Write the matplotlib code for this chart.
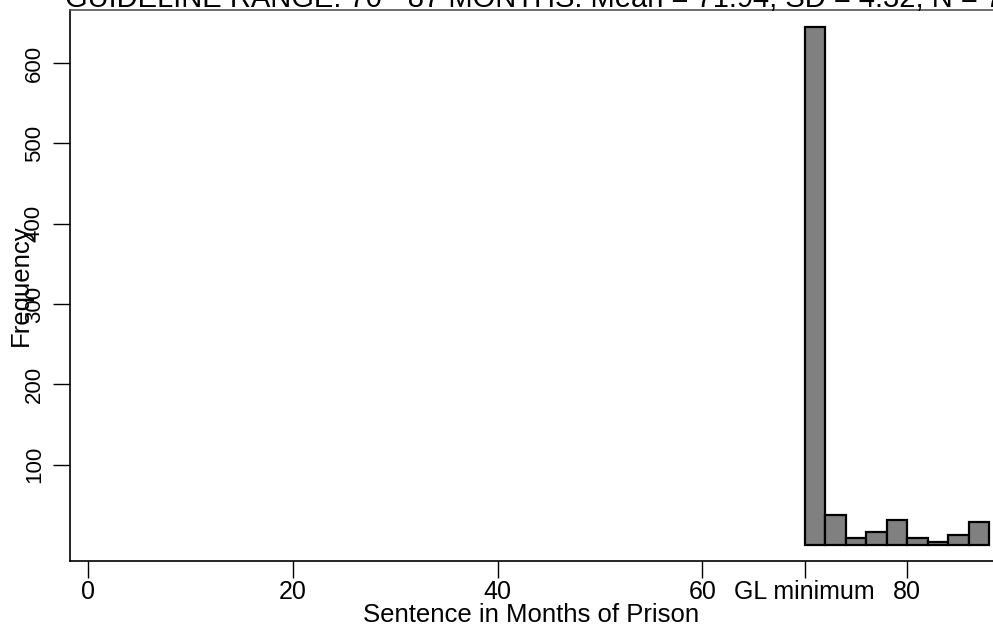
import numpy as np
import matplotlib
matplotlib.use('Agg')
import matplotlib.pyplot as plt

plt.rcParams['font.family'] = ['Liberation Sans', 'DejaVu Sans']

# histogram bins (months) and counts
bin_left = [70, 72, 74, 76, 78, 80, 82, 84, 86]
counts = [645, 37, 9, 16, 31, 9, 4, 12, 29]
bin_width = 2

x_ticks = [0, 20, 40, 60, 70, 80]
x_tick_labels = ['0', '20', '40', '60', 'GL minimum', '80']
y_ticks = [100, 200, 300, 400, 500, 600]

titulo = 'GUIDELINE RANGE: 70 - 87 MONTHS: Mean = 71.94, SD = 4.32, N = 792'

fig = plt.figure(figsize=(9.93, 6.32), dpi=100)
ax = fig.add_axes([70 / 993, 71 / 632, 923 / 993, 551 / 632])

ax.bar(bin_left, counts, width=bin_width, align='edge',
       color='#808080', edgecolor='black', linewidth=1.6)

ax.set_xlim(-1.76, 88.38)
ax.set_ylim(-20, 666)

ax.set_xticks(x_ticks)
ax.set_xticklabels(x_tick_labels, fontsize=18)
ax.set_yticks(y_ticks)
ax.set_yticklabels([str(v) for v in y_ticks], fontsize=16, rotation=90, va='center')
ax.tick_params(axis='both', length=12, width=1, color='black')
ax.tick_params(axis='x', pad=2)
ax.tick_params(axis='y', pad=6)

ax.spines['right'].set_visible(False)
for s in ['left', 'bottom', 'top']:
    ax.spines[s].set_linewidth(1.2)
ax.spines['top'].set_color('#555555')

ax.set_xlabel('Sentence in Months of Prison', fontsize=18.5, labelpad=-1)
ax.set_ylabel('Frequency', fontsize=18.5)
ax.yaxis.set_label_coords(-0.040, 0.5)

fig.text(65 / 993, 1 - 7 / 632, titulo, fontsize=21, ha='left', va='baseline')

fig.savefig('out.png', dpi=100)
